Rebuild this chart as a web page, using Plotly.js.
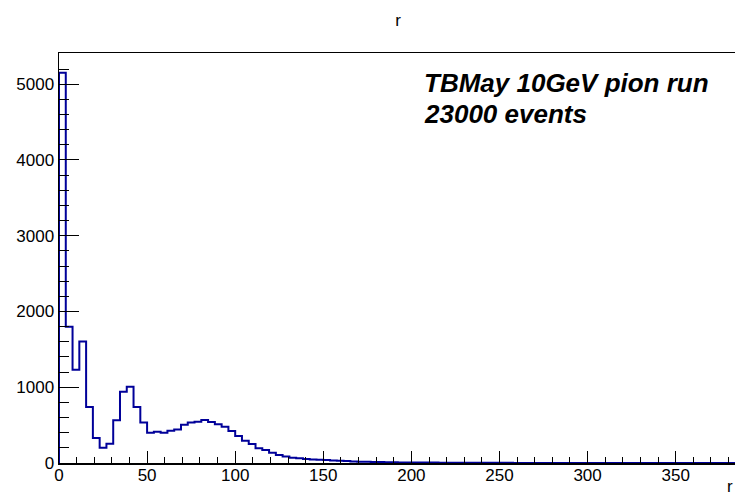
<!DOCTYPE html>
<html>
<head>
<meta charset="utf-8">
<script src="https://cdn.plot.ly/plotly-3.0.1.min.js"></script>
<style>
html, body { margin: 0; padding: 0; width: 735px; height: 495px; overflow: hidden; background: #fff; }
#chart { width: 740px; height: 495px; }
</style>
</head>
<body>
<div id="chart"></div>
<script>
// Histogram of r: 100 bins starting at 0
const histTitle = "r";
const xAxisTitle = "r";
const binStart = 0;
const binWidth = 3.846;
const counts = [
  5150, 1800, 1230, 1605, 740, 330, 200, 255, 565, 940,
  1005, 740, 535, 400, 412, 400, 426, 442, 505, 536,
  545, 567, 540, 513, 480, 424, 358, 293, 250, 195,
  170, 135, 105, 85, 70, 62, 53, 47, 43, 38,
  33, 29, 25, 21, 18, 16, 14, 12, 10, 9,
  8, 7, 6, 6, 5, 5, 4, 4, 3, 3,
  3, 3, 2, 2, 2, 2, 2, 1, 1, 1,
  1, 1, 1, 1, 1, 1, 1, 1, 0, 1,
  1, 0, 1, 0, 1, 0, 0, 1, 0, 0,
  0, 0, 0, 0, 0, 0, 0, 0, 0, 0
];
const xTickVals = [0, 50, 100, 150, 200, 250, 300, 350];
const yTickVals = [0, 1000, 2000, 3000, 4000, 5000];
const labelLines = ["TBMay 10GeV pion run", "23000 events"];

// build step outline from bins
const xs = [binStart];
const ys = [0];
for (let i = 0; i < counts.length; i++) {
  xs.push(binStart + i * binWidth);
  ys.push(counts[i]);
}
xs.push(binStart + counts.length * binWidth);
ys.push(counts[counts.length - 1]);
xs.push(binStart + counts.length * binWidth);
ys.push(0);

const font = "Liberation Sans, Arial, Helvetica, sans-serif";

const trace = {
  x: xs, y: ys, type: "scatter", mode: "lines",
  line: { shape: "hv", color: "#000099", width: 2 },
  hoverinfo: "skip", showlegend: false, cliponaxis: true
};

const layout = {
  width: 740, height: 495,
  margin: { l: 59, r: 3, t: 53, b: 32 },
  paper_bgcolor: "#fff", plot_bgcolor: "#fff",
  font: { family: font, size: 17, color: "#000" },
  title: { text: histTitle, x: 0.5, xref: "paper", xanchor: "center", y: 0.96, yref: "container", yanchor: "middle", font: { family: font, size: 17 } },
  xaxis: {
    range: [0, 384.8], showgrid: false, zeroline: false,
    showline: true, linecolor: "#000", linewidth: 1.5, mirror: true,
    ticks: "inside", ticklen: 12, tickwidth: 1, tickcolor: "#000",
    tickvals: xTickVals, ticktext: xTickVals.map(String),
    tickfont: { family: font, size: 17 }, ticklabelstandoff: -4,
    minor: { dtick: 10, tick0: 0, ticks: "inside", ticklen: 6, tickcolor: "#000", tickwidth: 1, showgrid: false },
    fixedrange: true
  },
  yaxis: {
    range: [0, 5412], showgrid: false, zeroline: false,
    showline: true, linecolor: "#000", linewidth: 1.5, mirror: true,
    ticks: "inside", ticklen: 20, tickwidth: 1, tickcolor: "#000",
    tickvals: yTickVals, ticktext: yTickVals.map(String),
    tickfont: { family: font, size: 17 },
    minor: { dtick: 200, tick0: 0, ticks: "inside", ticklen: 10, tickcolor: "#000", tickwidth: 1, showgrid: false },
    fixedrange: true
  },
  annotations: [
    { text: "<b><i>" + labelLines[0] + "</i></b>", xref: "paper", yref: "paper", x: 0.536, y: 0.927, xanchor: "left", yanchor: "middle", showarrow: false, font: { family: font, size: 26, color: "#000" } },
    { text: "<b><i>" + labelLines[1] + "</i></b>", xref: "paper", yref: "paper", x: 0.536, y: 0.851, xanchor: "left", yanchor: "middle", showarrow: false, font: { family: font, size: 26, color: "#000" } },
    { text: xAxisTitle, xref: "paper", yref: "paper", x: 0.997, y: -0.058, xanchor: "right", yanchor: "middle", showarrow: false, font: { family: font, size: 17, color: "#000" } }
  ]
};

Plotly.newPlot("chart", [trace], layout, { staticPlot: true, displayModeBar: false });
</script>
</body>
</html>
